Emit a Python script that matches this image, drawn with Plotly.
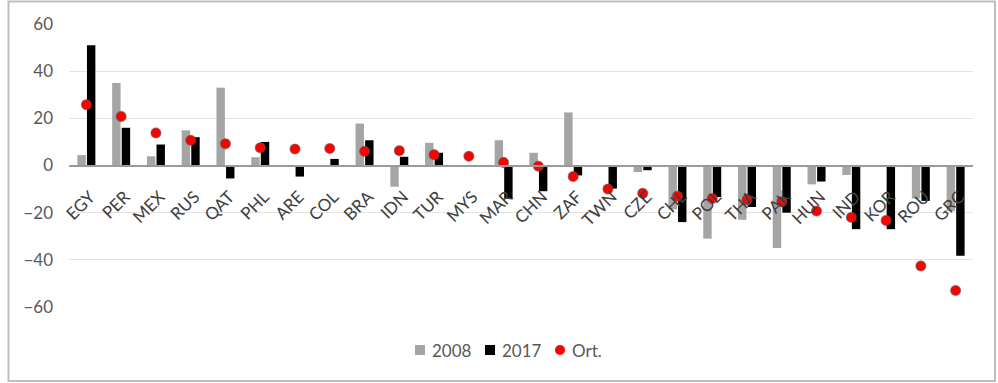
import plotly.graph_objects as go

# Country codes along the category axis
countries = ["EGY", "PER", "MEX", "RUS", "QAT", "PHL", "ARE", "COL", "BRA", "IDN",
             "TUR", "MYS", "MAR", "CHN", "ZAF", "TWN", "CZE", "CHL", "POL", "THA",
             "PAK", "HUN", "IND", "KOR", "ROU", "GRC"]

values_2008 = [4.4, 35, 3.9, 14.9, 33, 3.5, -0.5, 0, 17.8, -9,
               9.6, 0, 10.7, 5.4, 22.5, 0, -2.8, -18.6, -31, -23,
               -35, -8, -4, 0, -14, -19.3]

values_2017 = [51, 16, 8.9, 12, -5.5, 10, -4.7, 2.8, 10.7, 3.7,
               5.4, -0.5, -14, -10.9, -4.2, -9.8, -2, -24, -13.4, -17.6,
               -20, -6.8, -27, -27, -15, -38.3]

values_avg = [25.8, 20.8, 13.8, 10.7, 9.2, 7.5, 7, 7.2, 6, 6.3,
              4.6, 3.9, 1.3, -0.3, -4.7, -10, -11.8, -13, -14, -14.5,
              -15.3, -19.3, -22, -23.3, -42.6, -53]

y_ticks = [60, 40, 20, 0, -20, -40, -60]

series_names = ["2008", "2017", "Ort."]
series_colors = ["#a5a5a5", "#000000", "#ff0000"]

FONT = "Lato, 'Open Sans', sans-serif"

fig = go.Figure()
fig.add_trace(go.Bar(x=countries, y=values_2008, name=series_names[0],
                     marker=dict(color=series_colors[0], line=dict(width=0))))
fig.add_trace(go.Bar(x=countries, y=values_2017, name=series_names[1],
                     marker=dict(color=series_colors[1], line=dict(width=0))))
fig.add_trace(go.Scatter(x=countries, y=values_avg, name=series_names[2], mode="markers",
                         marker=dict(color=series_colors[2], size=10,
                                     line=dict(color="rgba(90,90,90,0.55)", width=1.2))))

W, H = 998, 383
ml, mr, mt, mb = 69, 25, 24, 76
pw, ph = W - ml - mr, H - mt - mb


def px_to_paper(xp, yp):
    return (xp - ml) / pw, (H - mb - yp) / ph


# Outer chart frame
x0, y0 = px_to_paper(8.5, 1.5)
x1, y1 = px_to_paper(995, 381)
shapes = [dict(type="rect", xref="paper", yref="paper",
               x0=x0, y0=y0, x1=x1, y1=y1,
               line=dict(color="#bfbfbf", width=2), fillcolor="rgba(0,0,0,0)",
               layer="below")]

# Compact legend row below the plot: key symbol followed by its label
legend_y = 350
legend_keys = [(415, "rect"), (485, "rect"), (555, "circle")]
annotations = []
for (kx, kind), name, color in zip(legend_keys, series_names, series_colors):
    sx0, sy0 = px_to_paper(kx, legend_y + 5)
    sx1, sy1 = px_to_paper(kx + 10, legend_y - 5)
    shapes.append(dict(type=kind, xref="paper", yref="paper",
                       x0=sx0, y0=sy0, x1=sx1, y1=sy1,
                       fillcolor=color, line=dict(width=0)))
    tx, ty = px_to_paper(kx + 15, legend_y)
    annotations.append(dict(text=name, xref="paper", yref="paper", x=tx, y=ty,
                            xanchor="left", yanchor="middle", showarrow=False,
                            font=dict(family=FONT, size=17, color="#595959")))

fig.update_layout(
    width=W, height=H,
    margin=dict(l=ml, r=mr, t=mt, b=mb),
    paper_bgcolor="white",
    plot_bgcolor="white",
    barmode="group",
    bargap=0.45,
    bargroupgap=0.12,
    showlegend=False,
    font=dict(family=FONT, size=16, color="#595959"),
    xaxis=dict(
        range=[-0.5, len(countries) - 0.5], automargin=False,
        anchor="free", position=0.5,
        showline=True, linecolor="#9a9a9a", linewidth=1.5,
        showgrid=False, ticks="", tickangle=-45,
        tickfont=dict(family=FONT, size=17, color="#404040"),
        ticklabelstandoff=14, ticklabelshift=4,
    ),
    yaxis=dict(
        range=[-60, 60], tickvals=y_ticks, automargin=False,
        showgrid=True, gridcolor="#e3e3e3", gridwidth=1.2,
        zeroline=False, showline=False, ticks="",
        tickfont=dict(family=FONT, size=17, color="#595959"),
        ticklabelstandoff=15,
    ),
    shapes=shapes,
    annotations=annotations,
)

fig.write_html("out.html")
